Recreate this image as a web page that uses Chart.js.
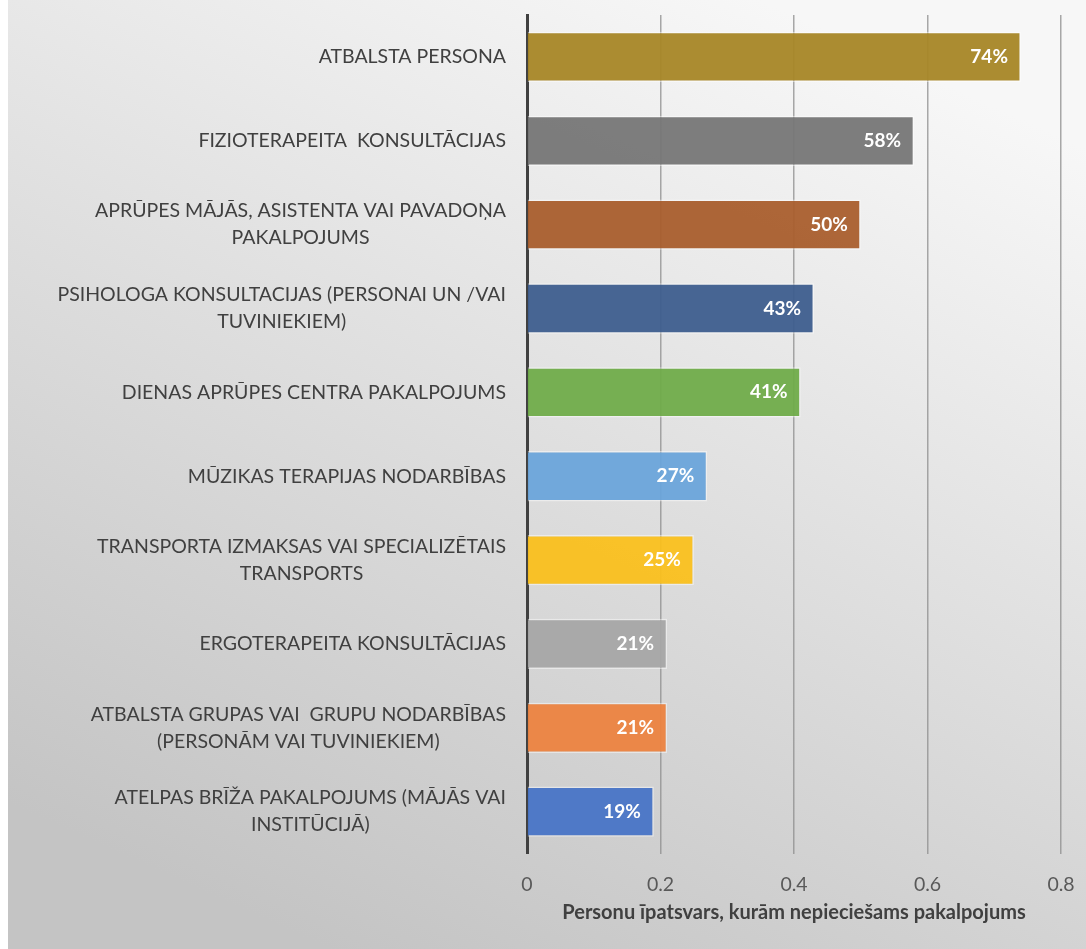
<!DOCTYPE html>
<html>
<head>
<meta charset="utf-8">
<script src="https://cdn.jsdelivr.net/npm/chart.js@4/dist/chart.umd.min.js"></script>
<style>
  html, body { margin: 0; padding: 0; background: #fff; }
  #wrap { width: 1086px; height: 949px; }
</style>
</head>
<body>
<div id="wrap"><canvas id="myChart" width="1086" height="949"></canvas></div>
<script>
const categories = [
  'ATBALSTA PERSONA',
  'FIZIOTERAPEITA  KONSULTĀCIJAS',
  ['APRŪPES MĀJĀS, ASISTENTA VAI PAVADOŅA', 'PAKALPOJUMS'],
  ['PSIHOLOGA KONSULTACIJAS (PERSONAI UN /VAI', 'TUVINIEKIEM)'],
  'DIENAS APRŪPES CENTRA PAKALPOJUMS',
  'MŪZIKAS TERAPIJAS NODARBĪBAS',
  ['TRANSPORTA IZMAKSAS VAI SPECIALIZĒTAIS', 'TRANSPORTS'],
  'ERGOTERAPEITA KONSULTĀCIJAS',
  ['ATBALSTA GRUPAS VAI  GRUPU NODARBĪBAS', '(PERSONĀM VAI TUVINIEKIEM)'],
  ['ATELPAS BRĪŽA PAKALPOJUMS (MĀJĀS VAI', 'INSTITŪCIJĀ)']
];
const values = [0.74, 0.58, 0.50, 0.43, 0.41, 0.27, 0.25, 0.21, 0.21, 0.19];
const barColors = [
  'rgba(166,134,38,0.95)', 'rgba(118,118,118,0.95)', 'rgba(169,94,45,0.95)',
  'rgba(62,94,142,0.95)', 'rgba(112,172,74,0.95)', 'rgba(106,164,218,0.95)',
  'rgba(250,192,30,0.95)', 'rgba(166,166,166,0.95)', 'rgba(236,131,64,0.95)',
  'rgba(72,116,198,0.95)'
];
const axisTitle = 'Personu īpatsvars, kurām nepieciešams pakalpojums';
const xMax = 0.8;
const xStep = 0.2;

const labelFont = '19.5px Lato';

// background gradient + white strip on the left
const background = {
  id: 'background',
  beforeDraw(chart) {
    const ctx = chart.ctx;
    const g = ctx.createLinearGradient(760, 0, 330, 949);
    g.addColorStop(0, '#f7f7f7');
    g.addColorStop(1, '#c4c4c4');
    ctx.save();
    ctx.fillStyle = g;
    ctx.fillRect(0, 0, chart.width, chart.height);
    ctx.fillStyle = '#ffffff';
    ctx.fillRect(0, 0, 8, chart.height);
    ctx.restore();
  }
};

// category labels, right aligned block with lines centred (like Excel)
const categoryLabels = {
  id: 'categoryLabels',
  afterDraw(chart) {
    const ctx = chart.ctx;
    const yScale = chart.scales.y;
    const right = chart.chartArea.left - 21;
    const lh = 27;
    ctx.save();
    ctx.font = labelFont;
    ctx.fillStyle = '#404040';
    ctx.textAlign = 'center';
    ctx.textBaseline = 'middle';
    categories.forEach((c, i) => {
      const lines = Array.isArray(c) ? c : [c];
      const w = Math.max(...lines.map(l => ctx.measureText(l).width));
      const cx = right - w / 2;
      const y = yScale.getPixelForValue(i);
      lines.forEach((l, j) => {
        ctx.fillText(l, cx, y + (j - (lines.length - 1) / 2) * lh);
      });
    });
    ctx.restore();
  }
};

// value labels inside the end of each bar
const valueLabels = {
  id: 'valueLabels',
  afterDatasetsDraw(chart) {
    const ctx = chart.ctx;
    const meta = chart.getDatasetMeta(0);
    ctx.save();
    ctx.font = 'bold 19px Lato';
    ctx.fillStyle = '#ffffff';
    ctx.textAlign = 'right';
    ctx.textBaseline = 'middle';
    meta.data.forEach((bar, i) => {
      ctx.fillText(Math.round(values[i] * 100) + '%', bar.x - 13, bar.y);
    });
    ctx.restore();
  }
};

const ctx = document.getElementById('myChart');
const graph = new Chart(ctx, {
  type: 'bar',
  data: {
    labels: categories,
    datasets: [{
      data: values,
      backgroundColor: barColors,
      borderColor: 'rgba(255,255,255,0.45)',
      borderWidth: 1.5,
      categoryPercentage: 0.6,
      barPercentage: 1
    }]
  },
  options: {
    indexAxis: 'y',
    responsive: false,
    animation: false,
    layout: { padding: { top: 15, right: 25, left: 8, bottom: 22 } },
    plugins: {
      legend: { display: false },
      tooltip: { enabled: false }
    },
    scales: {
      x: {
        min: 0,
        max: xMax,
        ticks: {
          stepSize: xStep,
          color: '#595959',
          font: { family: 'Lato', size: 19.5 },
          padding: 19
        },
        grid: { color: 'rgba(140,140,140,0.75)', lineWidth: 1.5, drawTicks: false },
        border: { display: false },
        title: {
          display: true,
          text: axisTitle,
          color: '#404040',
          font: { family: 'Lato', size: 20, weight: 'bold' },
          padding: { top: -14, bottom: 2 }
        },
        afterFit(scale) { scale.paddingLeft = 0; scale.paddingRight = 0; }
      },
      y: {
        ticks: { display: false },
        grid: { display: false },
        border: { display: true, color: '#404040', width: 3 },
        afterFit(scale) { scale.width = 519; }
      }
    }
  },
  plugins: [background, categoryLabels, valueLabels]
});
</script>
</body>
</html>
